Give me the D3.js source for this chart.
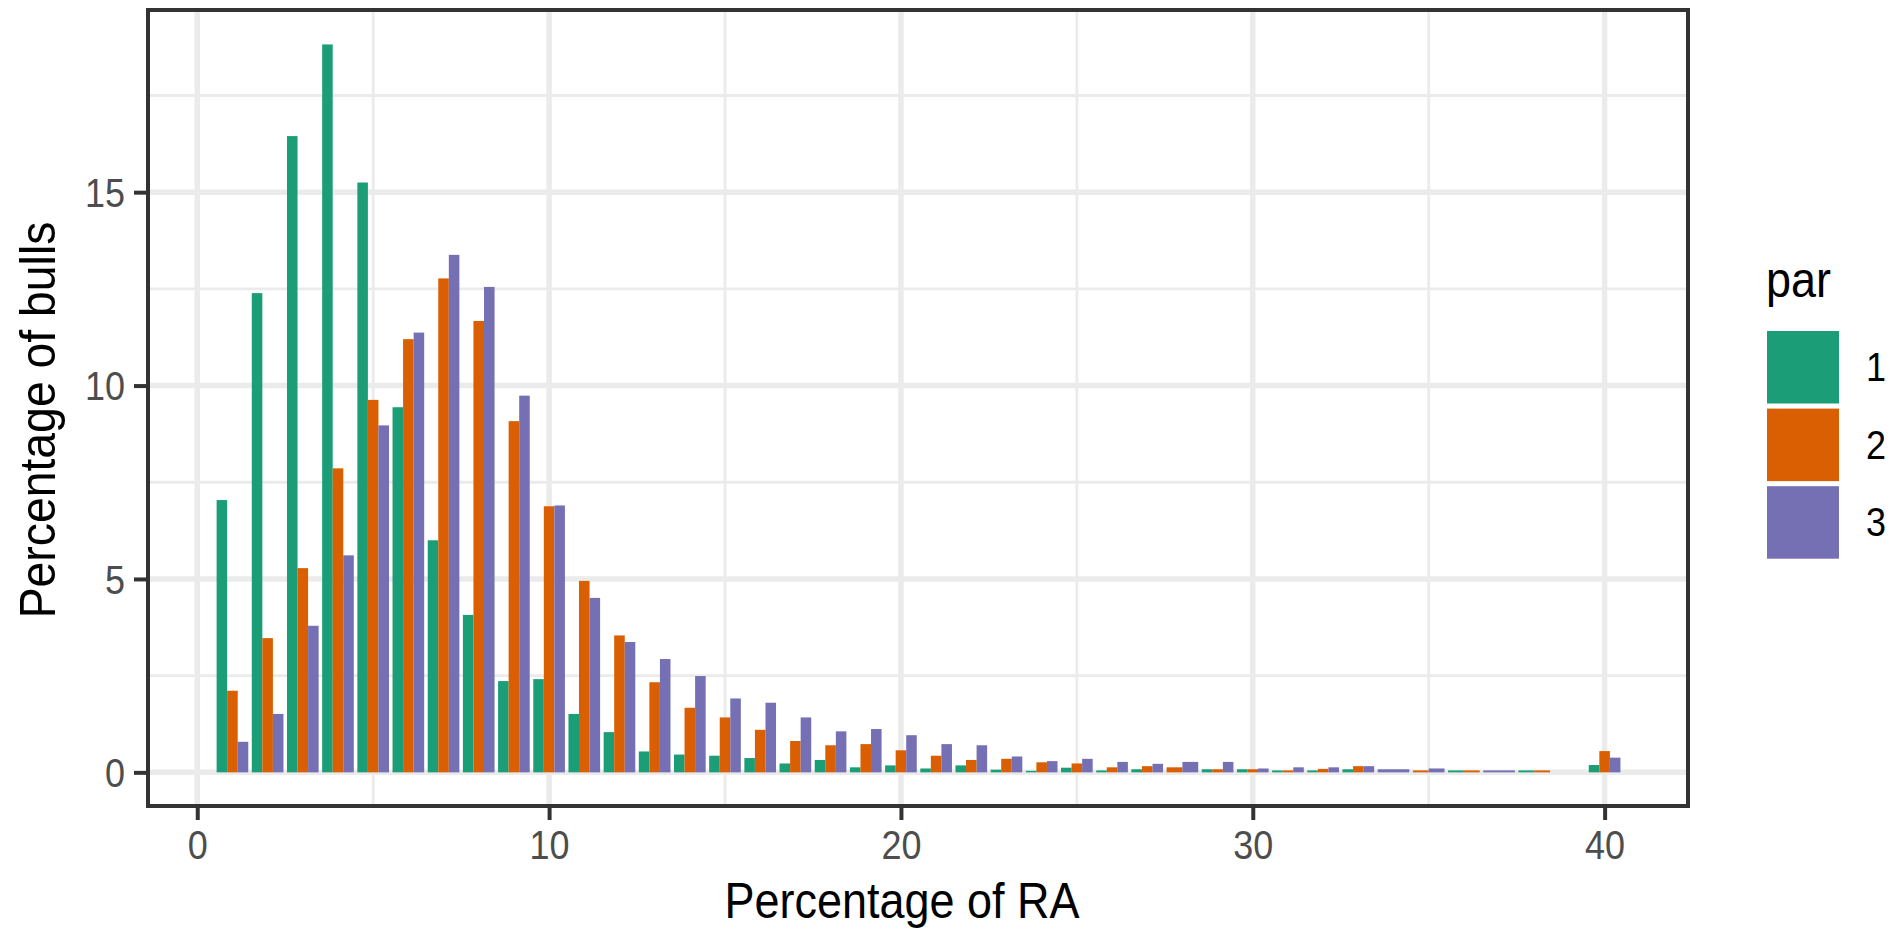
<!DOCTYPE html>
<html>
<head>
<meta charset="utf-8">
<script src="https://cdn.jsdelivr.net/npm/d3@7"></script>
<style>
  body { margin: 0; background: #fff; }
  svg { display: block; font-family: "Liberation Sans", Arial, sans-serif; }
</style>
</head>
<body>
<div class="chart"></div>
<script>
// 資料: 每個 RA 百分比 (1~40) 下，三個 par 的公牛百分比
// null = 該組沒有資料 (ggplot dodge 會把寬度分給其他 bar)
const raPct = d3.range(1, 41);
const parNames = ['1', '2', '3'];
const par1 = [7.04, 12.39, 16.45, 18.82, 15.25, 9.44, 6.00, 4.07, 2.36, 2.41,
              1.51, 1.04, 0.54, 0.46, 0.43, 0.37, 0.23, 0.32, 0.13, 0.18,
              0.10, 0.18, 0.07, 0.04, 0.12, 0.05, 0.08, null, 0.08, 0.08,
              0.05, 0.05, 0.08, null, null, 0.05, null, 0.05, null, 0.19];
const par2 = [2.11, 3.47, 5.28, 7.86, 9.63, 11.20, 12.77, 11.67, 9.08, 6.88,
              4.95, 3.54, 2.33, 1.67, 1.42, 1.10, 0.81, 0.70, 0.73, 0.57,
              0.43, 0.32, 0.35, 0.26, 0.23, 0.13, 0.16, 0.13, 0.08, 0.08,
              0.05, 0.09, 0.16, null, 0.05, 0.05, null, 0.05, null, 0.55];
const par3 = [0.79, 1.51, 3.79, 5.61, 8.97, 11.37, 13.38, 12.55, 9.74, 6.90,
              4.51, 3.37, 2.93, 2.49, 1.91, 1.80, 1.42, 1.06, 1.12, 0.96,
              0.73, 0.70, 0.41, 0.29, 0.35, 0.27, 0.22, 0.27, 0.27, 0.10,
              0.13, 0.13, 0.16, 0.08, 0.10, null, 0.05, null, null, 0.38];
const xTicks = [0, 10, 20, 30, 40];
const xMinor = [5, 15, 25, 35];
const yTicks = [0, 5, 10, 15];
const yMinor = [2.5, 7.5, 12.5, 17.5];
const colors = ['#1B9E77', '#D95F02', '#7570B3'];   // Dark2

const W = 1895, H = 931;
const panel = {left: 148, right: 1688, top: 10, bottom: 806};
const stretch = 1.12;   // 原圖文字稍微被垂直拉長

const svg = d3.select('.chart').append('svg')
    .attr('width', W).attr('height', H);

// scale (包含 ggplot 的 5% 留白)
const x = d3.scaleLinear().domain([-1.40, 42.37]).range([panel.left, panel.right]);
const y = d3.scaleLinear().domain([-0.87, 19.71]).range([panel.bottom, panel.top]);

// grid
const grid = svg.append('g').attr('stroke', '#EBEBEB');
grid.selectAll('.ymin').data(yMinor).join('line')
    .attr('x1', panel.left).attr('x2', panel.right)
    .attr('y1', d => y(d)).attr('y2', d => y(d)).attr('stroke-width', 2.8);
grid.selectAll('.xmin').data(xMinor).join('line')
    .attr('y1', panel.top).attr('y2', panel.bottom)
    .attr('x1', d => x(d)).attr('x2', d => x(d)).attr('stroke-width', 2.8);
grid.selectAll('.ymaj').data(yTicks).join('line')
    .attr('x1', panel.left).attr('x2', panel.right)
    .attr('y1', d => y(d)).attr('y2', d => y(d)).attr('stroke-width', 5.5);
grid.selectAll('.xmaj').data(xTicks).join('line')
    .attr('y1', panel.top).attr('y2', panel.bottom)
    .attr('x1', d => x(d)).attr('x2', d => x(d)).attr('stroke-width', 5.5);

// bars: position_dodge，只把寬度 0.9 分給有值的組
const series = [par1, par2, par3];
const barData = [];
raPct.forEach((ra, i) => {
    const present = series.map((s, k) => ({k, v: s[i]})).filter(d => d.v !== null);
    const w = 0.9 / present.length;
    present.forEach((d, j) => {
        barData.push({ra, par: d.k, value: d.v, x0: ra - 0.45 + j * w, x1: ra - 0.45 + (j + 1) * w});
    });
});

svg.append('g').attr('class', 'bars')
    .selectAll('rect').data(barData).join('rect')
    .attr('x', d => x(d.x0))
    .attr('width', d => x(d.x1) - x(d.x0))
    .attr('y', d => y(d.value))
    .attr('height', d => y(0) - y(d.value))
    .attr('fill', d => colors[d.par]);

// panel border
svg.append('rect')
    .attr('x', panel.left).attr('y', panel.top)
    .attr('width', panel.right - panel.left).attr('height', panel.bottom - panel.top)
    .attr('fill', 'none').attr('stroke', '#333333').attr('stroke-width', 4);

// axes
const xAxis = d3.axisBottom(x).tickValues(xTicks).tickSize(14).tickSizeOuter(0).tickPadding(0);
const xAxisDraw = svg.append('g').attr('transform', `translate(0,${panel.bottom})`).call(xAxis);
xAxisDraw.select('.domain').remove();
xAxisDraw.selectAll('line').attr('stroke', '#333333').attr('stroke-width', 4);
xAxisDraw.selectAll('text')
    .attr('y', 53 / stretch).attr('dy', null)
    .attr('transform', `scale(1,${stretch})`)
    .attr('fill', '#4D4D4D').style('font-size', '36px')
    .style('font-family', '"Liberation Sans", Arial, sans-serif');

const yAxis = d3.axisLeft(y).tickValues(yTicks).tickSize(14).tickSizeOuter(0).tickPadding(0);
const yAxisDraw = svg.append('g').attr('transform', `translate(${panel.left},0)`).call(yAxis);
yAxisDraw.select('.domain').remove();
yAxisDraw.selectAll('line').attr('stroke', '#333333').attr('stroke-width', 4);
yAxisDraw.selectAll('text')
    .attr('x', -23).attr('dy', '0.35em')
    .attr('transform', `scale(1,${stretch})`)
    .attr('fill', '#4D4D4D').style('font-size', '36px')
    .style('font-family', '"Liberation Sans", Arial, sans-serif');

// axis titles
svg.append('text')
    .attr('transform', `translate(902,918) scale(1,${stretch})`)
    .attr('text-anchor', 'middle').style('font-size', '45px')
    .text('Percentage of RA');
svg.append('text')
    .attr('transform', `translate(55,420) rotate(-90) scale(1.03,${stretch})`)
    .attr('text-anchor', 'middle').style('font-size', '45px')
    .text('Percentage of bulls');

// legend
const legend = svg.append('g').attr('transform', 'translate(1767,0)');
legend.append('text')
    .attr('transform', `translate(-1,297) scale(1,${stretch})`)
    .style('font-size', '45px').text('par');
const keys = legend.selectAll('.key').data(parNames).join('g')
    .attr('transform', (d, i) => `translate(0,${331 + i * 77.6})`);
keys.append('rect').attr('width', 72).attr('height', 72.5)
    .attr('fill', (d, i) => colors[i]);
keys.append('text')
    .attr('transform', `translate(99,36) scale(1,${stretch})`)
    .attr('dy', '0.35em')
    .style('font-size', '36px').text(d => d);
</script>
</body>
</html>
